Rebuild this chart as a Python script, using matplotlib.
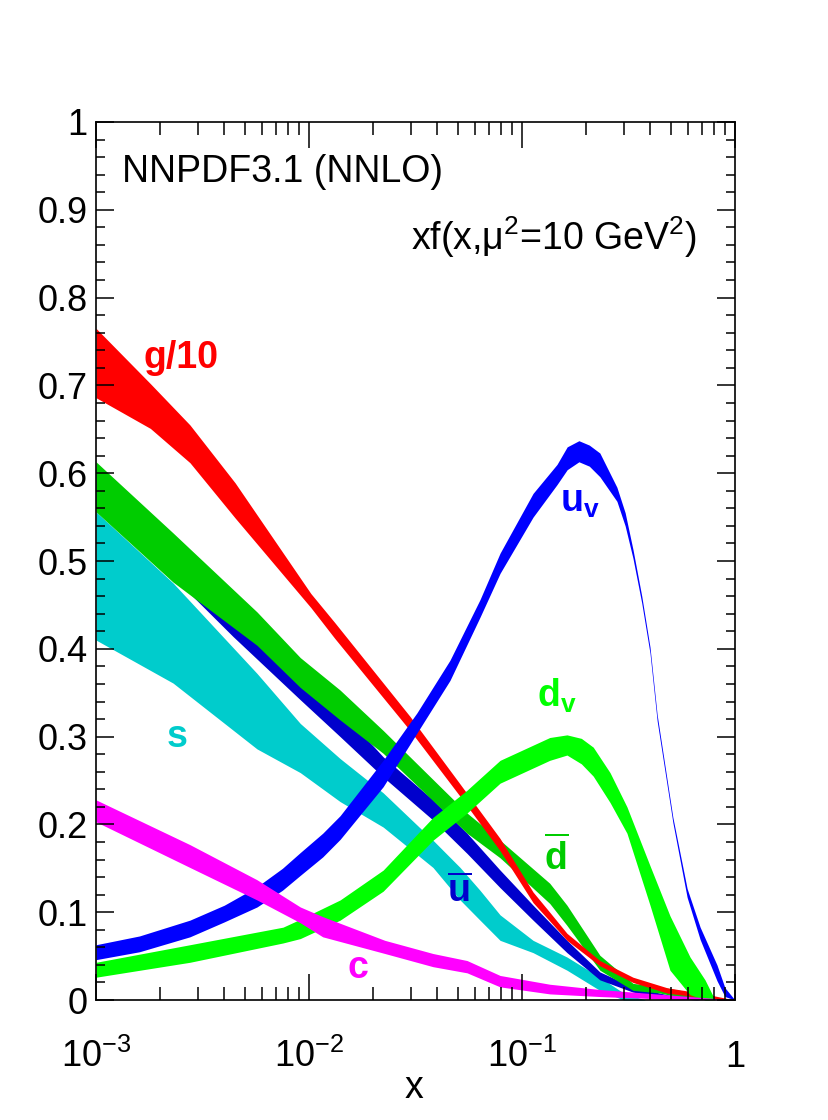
import matplotlib
matplotlib.use("Agg")
import matplotlib.pyplot as plt
from matplotlib.ticker import MultipleLocator, NullFormatter

plt.rcParams['font.family'] = ['Liberation Sans', 'DejaVu Sans']
plt.rcParams['mathtext.fontset'] = 'custom'
plt.rcParams['mathtext.rm'] = 'Liberation Sans'
plt.rcParams['mathtext.it'] = 'Liberation Sans:italic'
plt.rcParams['mathtext.bf'] = 'Liberation Sans:bold'

# xf(x, mu^2 = 10 GeV^2), bands (upper / lower edges)
x_g = [0.001, 0.0018, 0.00276, 0.0045, 0.0102, 0.0132, 0.0298, 0.0512, 0.0789,
       0.1127, 0.135, 0.1626, 0.232, 0.332, 0.48, 0.686, 1.0]
g_hi = [0.765, 0.702, 0.655, 0.589, 0.463, 0.430, 0.323, 0.246, 0.184,
        0.123, 0.100, 0.076, 0.045, 0.026, 0.014, 0.008, 0.0]
g_lo = [0.686, 0.651, 0.612, 0.549, 0.447, 0.412, 0.307, 0.232, 0.170,
        0.111, 0.090, 0.068, 0.039, 0.020, 0.008, 0.003, 0.0]

x_uv = [0.001, 0.0016, 0.00276, 0.004, 0.0057, 0.0075, 0.0091, 0.0116, 0.014,
        0.0223, 0.0321, 0.0459, 0.0635, 0.0789, 0.1127, 0.146, 0.163, 0.185,
        0.207, 0.232, 0.279, 0.305, 0.332, 0.365, 0.399, 0.431, 0.511, 0.596,
        0.686, 0.823, 0.897, 1.0]
uv_hi = [0.063, 0.073, 0.091, 0.108, 0.129, 0.150, 0.168, 0.190, 0.210,
         0.273, 0.327, 0.387, 0.456, 0.509, 0.577, 0.610, 0.630, 0.637,
         0.632, 0.623, 0.584, 0.555, 0.513, 0.460, 0.402, 0.325, 0.208, 0.127,
         0.083, 0.040, 0.014, 0.0]
uv_lo = [0.046, 0.055, 0.072, 0.089, 0.106, 0.125, 0.142, 0.163, 0.183,
         0.243, 0.304, 0.364, 0.436, 0.486, 0.550, 0.587, 0.604, 0.613,
         0.608, 0.596, 0.568, 0.540, 0.503, 0.452, 0.395, 0.318, 0.202, 0.117,
         0.069, 0.022, 0.004, 0.0]

x_dv = [0.001, 0.00276, 0.00755, 0.0091, 0.014, 0.0223, 0.0382, 0.0552, 0.0789,
        0.135, 0.1626, 0.19, 0.216, 0.259, 0.311, 0.399, 0.495, 0.615, 0.723,
        0.806]
dv_hi = [0.043, 0.063, 0.083, 0.092, 0.114, 0.148, 0.208, 0.239, 0.273,
         0.299, 0.302, 0.298, 0.288, 0.259, 0.220, 0.153, 0.096, 0.049, 0.023,
         0.0]
dv_lo = [0.026, 0.043, 0.065, 0.070, 0.091, 0.124, 0.182, 0.213, 0.247,
         0.273, 0.279, 0.269, 0.255, 0.225, 0.190, 0.108, 0.034, 0.006, 0.0,
         0.0]

x_ubar = [0.001, 0.0023, 0.0044, 0.0091, 0.014, 0.0223, 0.0382, 0.0552, 0.0789,
          0.1127, 0.1626, 0.232, 0.332, 0.48, 0.686]
ubar_hi = [0.605, 0.520, 0.450, 0.360, 0.330, 0.277, 0.228, 0.190, 0.148,
           0.108, 0.068, 0.032, 0.015, 0.006, 0.0]
ubar_lo = [0.560, 0.482, 0.414, 0.342, 0.300, 0.254, 0.205, 0.167, 0.128,
           0.091, 0.054, 0.023, 0.009, 0.002, 0.0]

x_dbar = [0.001, 0.0023, 0.0057, 0.0091, 0.014, 0.0223, 0.0552, 0.0789, 0.135,
          0.1626, 0.232, 0.332, 0.445, 0.552, 0.763]
dbar_hi = [0.613, 0.532, 0.442, 0.390, 0.353, 0.307, 0.213, 0.182, 0.133,
           0.108, 0.051, 0.019, 0.015, 0.011, 0.0]
dbar_lo = [0.556, 0.476, 0.404, 0.356, 0.319, 0.281, 0.190, 0.162, 0.110,
           0.085, 0.034, 0.011, 0.008, 0.003, 0.0]

x_s = [0.001, 0.0023, 0.0057, 0.0091, 0.014, 0.0223, 0.0382, 0.0512, 0.0635,
       0.0789, 0.1127, 0.1626, 0.232, 0.3, 0.38]
s_hi = [0.556, 0.475, 0.372, 0.315, 0.275, 0.236, 0.182, 0.151, 0.125,
        0.097, 0.068, 0.049, 0.026, 0.008, 0.0]
s_lo = [0.410, 0.361, 0.286, 0.259, 0.226, 0.197, 0.151, 0.114, 0.091,
        0.068, 0.054, 0.034, 0.011, 0.0, 0.0]

x_c = [0.001, 0.00276, 0.0057, 0.0091, 0.0116, 0.0227, 0.0382, 0.0552, 0.0789,
       0.135, 0.232, 0.48, 1.0]
c_hi = [0.228, 0.177, 0.137, 0.106, 0.095, 0.068, 0.053, 0.045, 0.028,
        0.018, 0.012, 0.006, 0.0]
c_lo = [0.203, 0.151, 0.114, 0.088, 0.072, 0.053, 0.038, 0.031, 0.015,
        0.007, 0.004, 0.001, 0.0]

xtick_pos = [1e-3, 1e-2, 1e-1, 1.0]
xtick_lab = [r'$10^{-3}$', r'$10^{-2}$', r'$10^{-1}$', '1']
ytick_pos = [0, 0.1, 0.2, 0.3, 0.4, 0.5, 0.6, 0.7, 0.8, 0.9, 1.0]
ytick_lab = ['0', '0.1', '0.2', '0.3', '0.4', '0.5', '0.6', '0.7', '0.8', '0.9', '1']

fig = plt.figure(figsize=(8.29, 11.2), dpi=100)
ax = fig.add_axes([0.1158, 0.1071, 0.7708, 0.784])

# drawing order chosen to match overlaps in the reference
ax.fill_between(x_s, s_lo, s_hi, color='#00cccc', lw=0)
ax.fill_between(x_ubar, ubar_lo, ubar_hi, color='#0000cc', lw=0)
ax.fill_between(x_dbar, dbar_lo, dbar_hi, color='#00cc00', lw=0)
ax.fill_between(x_g, g_lo, g_hi, color='#ff0000', lw=0)
ax.fill_between(x_dv, dv_lo, dv_hi, color='#00ff00', lw=0)
ax.fill_between(x_uv, uv_lo, uv_hi, color='#0000ff', lw=0)
ax.fill_between(x_c, c_lo, c_hi, color='#ff00ff', lw=0)

ax.set_xscale('log')
ax.set_xlim(1e-3, 1)
ax.set_ylim(0, 1)

ax.set_xticks(xtick_pos, xtick_lab)
ax.xaxis.set_minor_formatter(NullFormatter())
ax.set_yticks(ytick_pos, ytick_lab)
ax.yaxis.set_minor_locator(MultipleLocator(0.02))

ax.tick_params(which='both', direction='in', top=True, right=True, width=1.1, labelsize=26)
ax.tick_params(axis='x', which='major', length=19, pad=48)
ax.tick_params(axis='x', which='minor', length=9.5)
ax.tick_params(axis='y', which='major', length=13, pad=6)
ax.tick_params(axis='y', which='minor', length=6.5)
for lab in ax.get_xticklabels():
    lab.set_verticalalignment('baseline')
for sp in ax.spines.values():
    sp.set_linewidth(1.2)

ax.set_xlabel('x', fontsize=27)
ax.xaxis.label.set_verticalalignment('baseline')
ax.xaxis.set_label_coords(0.497, -0.1116)

ax.text(0.041, 0.932, 'NNPDF3.1 (NNLO)', transform=ax.transAxes, fontsize=27, va='baseline')
ax.text(0.9405, 0.854, r'xf(x,μ$^{2}$=10 GeV$^{2}$)', transform=ax.transAxes,
        fontsize=27, ha='right', va='baseline')

lab_kw = dict(transform=ax.transAxes, fontsize=27, fontweight='bold', va='baseline')
ax.text(0.0736, 0.7198, 'g/10', color='#ff0000', **lab_kw)
ax.text(0.726, 0.5558, r'$\mathbf{u}_{\mathbf{v}}$', color='#0000ff', **lab_kw)
ax.text(0.690, 0.3337, r'$\mathbf{d}_{\mathbf{v}}$', color='#00ff00', **lab_kw)
ax.text(0.701, 0.148, r'$\overline{\mathbf{d}}$', color='#00cc00', **lab_kw)
ax.text(0.549, 0.1116, r'$\overline{\mathbf{u}}$', color='#0000cc', **lab_kw)
ax.text(0.111, 0.288, 's', color='#00cccc', **lab_kw)
ax.text(0.394, 0.025, 'c', color='#ff00ff', **lab_kw)

fig.savefig('out.png', dpi=100)
